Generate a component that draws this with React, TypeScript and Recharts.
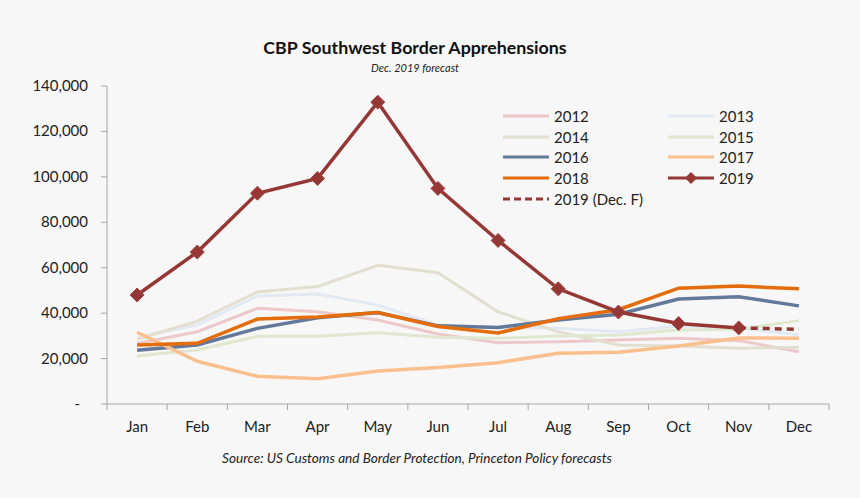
import React from 'react';
import { LineChart, Line, XAxis, YAxis } from 'recharts';

const months = ['Jan', 'Feb', 'Mar', 'Apr', 'May', 'Jun', 'Jul', 'Aug', 'Sep', 'Oct', 'Nov', 'Dec'];

const y2012 = [26700, 31800, 42100, 40600, 37000, 30800, 27000, 27400, 28200, 28900, 27900, 23000];
const y2013 = [29400, 34800, 47600, 48400, 43600, 34800, 33800, 33300, 31800, 34300, 33300, 30500];
const y2014 = [28500, 36500, 49300, 51700, 61100, 57800, 40600, 31800, 26000, 25500, 24500, 25000];
const y2015 = [21100, 23800, 29800, 29800, 31400, 29400, 28900, 29900, 30400, 32600, 32900, 36700];
const y2016 = [23700, 26000, 33300, 38000, 40300, 34400, 33700, 37000, 39500, 46200, 47200, 43200];
const y2017 = [31600, 18800, 12200, 11100, 14500, 16100, 18200, 22300, 22800, 25500, 29100, 29000];
const y2018 = [26000, 26700, 37400, 38300, 40300, 34100, 31300, 37500, 41500, 51000, 51900, 50700];
const y2019 = [48000, 66900, 92800, 99300, 132900, 94900, 72000, 50700, 40500, 35400, 33500, null];
const y2019f = [null, null, null, null, null, null, null, null, null, null, 33500, 32900];

const yTicks = [0, 20000, 40000, 60000, 80000, 100000, 120000, 140000];
const boundaryTicks = [0.5, 1.5, 2.5, 3.5, 4.5, 5.5, 6.5, 7.5, 8.5, 9.5, 10.5, 11.5, 12.5];

const data = months.map((m, i) => ({
  x: i + 1,
  month: m,
  y2012: y2012[i],
  y2013: y2013[i],
  y2014: y2014[i],
  y2015: y2015[i],
  y2016: y2016[i],
  y2017: y2017[i],
  y2018: y2018[i],
  y2019: y2019[i],
  y2019f: y2019f[i],
}));

const FONT = 'Lato, "Open Sans", sans-serif';
const RED = '#953735';

const series = [
  { key: 'y2012', name: '2012', color: '#ecc9c8', width: 3 },
  { key: 'y2013', name: '2013', color: '#e3e9f3', width: 3 },
  { key: 'y2014', name: '2014', color: '#e2dfd0', width: 3 },
  { key: 'y2015', name: '2015', color: '#dfe8cf', width: 3 },
  { key: 'y2016', name: '2016', color: '#62799a', width: 3.5 },
  { key: 'y2017', name: '2017', color: '#fbbf8e', width: 3.5 },
  { key: 'y2018', name: '2018', color: '#e46c0a', width: 3.5 },
];

const Diamond = (props: any) => {
  const { cx, cy, value } = props;
  if (value == null || cx == null) return null;
  const r = 7;
  return (
    <polygon
      points={`${cx},${cy - r} ${cx + r},${cy} ${cx},${cy + r} ${cx - r},${cy}`}
      fill={RED}
      stroke="#a54442"
      strokeWidth={1}
    />
  );
};

const legendItems = [
  ...series.map(s => ({ name: s.name, color: s.color, dash: false, marker: false })),
  { name: '2019', color: RED, dash: false, marker: true },
  { name: '2019 (Dec. F)', color: RED, dash: true, marker: false },
];

const LegendBox = () => (
  <div
    style={{
      position: 'absolute',
      left: 502,
      top: 107,
      display: 'grid',
      gridTemplateColumns: '165px 120px',
      rowGap: 2.7,
      fontFamily: FONT,
      fontSize: 15,
      color: '#222',
    }}
  >
    {legendItems.map(it => (
      <div key={it.name} style={{ display: 'flex', alignItems: 'center', height: 18 }}>
        <svg width={52} height={14}>
          <line
            x1={1}
            y1={7}
            x2={47}
            y2={7}
            stroke={it.color}
            strokeWidth={3}
            strokeDasharray={it.dash ? '7 4' : undefined}
          />
          {it.marker && <polygon points="24,1 30,7 24,13 18,7" fill={RED} />}
        </svg>
        <span>{it.name}</span>
      </div>
    ))}
  </div>
);

// accounting style: dash for zero, sits a bit left of the numbers
const YTick = (props: any) => {
  const { x, y, payload } = props;
  const v = payload.value as number;
  return (
    <text
      x={v === 0 ? x - 8 : x}
      y={y}
      dy={5}
      textAnchor="end"
      fill="#222"
      fontSize={15}
      fontFamily={FONT}
    >
      {v === 0 ? '-' : v.toLocaleString('en-US')}
    </text>
  );
};

export default function App() {
  return (
    <div
      style={{
        position: 'absolute',
        left: 0,
        top: 0,
        width: 860,
        height: 498,
        background: '#f7f7f7',
        fontFamily: FONT,
      }}
    >
      <div
        style={{
          position: 'absolute',
          top: 36,
          left: 0,
          width: 830,
          textAlign: 'center',
          fontWeight: 700,
          fontSize: 17.8,
          color: '#111',
        }}
      >
        CBP Southwest Border Apprehensions
      </div>
      <div
        style={{
          position: 'absolute',
          top: 61,
          left: 0,
          width: 830,
          textAlign: 'center',
          fontStyle: 'italic',
          fontSize: 11,
          color: '#222',
        }}
      >
        Dec. 2019 forecast
      </div>
      <LineChart
        width={860}
        height={498}
        data={data}
        margin={{ top: 86, right: 31, bottom: 58, left: 0 }}
        style={{ position: 'absolute', left: 0, top: 0 }}
      >
        <XAxis
          xAxisId="grid"
          type="number"
          dataKey="x"
          domain={[0.5, 12.5]}
          ticks={boundaryTicks}
          tickFormatter={() => ''}
          tickSize={6}
          height={6}
          stroke="#a6a6a6"
          interval={0}
        />
        <XAxis
          xAxisId="m"
          type="number"
          dataKey="x"
          domain={[0.5, 12.5]}
          ticks={months.map((_, i) => i + 1)}
          tickFormatter={(v: number) => months[v - 1]}
          axisLine={false}
          tickLine={false}
          tickMargin={5}
          height={30}
          interval={0}
          tick={{ fill: '#222', fontSize: 15, fontFamily: FONT }}
        />
        <YAxis
          type="number"
          domain={[0, 140000]}
          ticks={yTicks}
          width={107}
          tickSize={6}
          tickMargin={13}
          stroke="#a6a6a6"
          tick={<YTick />}
        />
        {series.map(s => (
          <Line
            key={s.key}
            xAxisId="m"
            dataKey={s.key}
            name={s.name}
            stroke={s.color}
            strokeWidth={s.width}
            dot={false}
            activeDot={false}
            isAnimationActive={false}
          />
        ))}
        <Line
          xAxisId="m"
          dataKey="y2019f"
          name="2019 (Dec. F)"
          stroke={RED}
          strokeWidth={3.5}
          strokeDasharray="7 5"
          dot={false}
          activeDot={false}
          connectNulls={false}
          isAnimationActive={false}
        />
        <Line
          xAxisId="m"
          dataKey="y2019"
          name="2019"
          stroke={RED}
          strokeWidth={3.5}
          dot={<Diamond />}
          activeDot={false}
          isAnimationActive={false}
        />
      </LineChart>
      <LegendBox />
      <div
        style={{
          position: 'absolute',
          top: 450,
          left: 0,
          width: 834,
          textAlign: 'center',
          fontStyle: 'italic',
          fontSize: 13.6,
          color: '#222',
        }}
      >
        Source: US Customs and Border Protection, Princeton Policy forecasts
      </div>
    </div>
  );
}
